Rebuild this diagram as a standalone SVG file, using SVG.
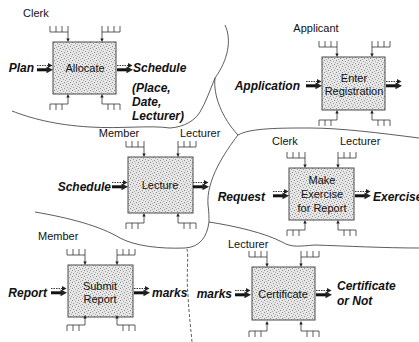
<svg xmlns="http://www.w3.org/2000/svg" xmlns:xlink="http://www.w3.org/1999/xlink" width="419" height="342" viewBox="0 0 419 342">
  <style>
    text { font-family: "Liberation Sans", Arial, sans-serif; fill: #111; }
    .lbl { font-size: 11px; }
    .title { font-size: 11px; text-anchor: middle; }
    .flowlbl { font-size: 12px; font-weight: bold; font-style: italic; }
    .end { text-anchor: end; }
    .mid { text-anchor: middle; }
    .box { fill: url(#stipple); stroke: #4a4a4a; stroke-width: 1; }
    .comb { fill: none; stroke: #333; stroke-width: 0.8; }
    .tip { fill: #222; }
    .region { fill: none; stroke: #333; stroke-width: 0.8; }
    .dashed { stroke-dasharray: 3 2; }
  </style>
  <defs>
    <!-- grainy grey fill used inside each process box -->
    <pattern id="stipple" width="6" height="6" patternUnits="userSpaceOnUse">
      <rect width="6" height="6" fill="#e6e6e6"/>
      <rect x="0" y="0" width="1" height="1" fill="#8a8a8a"/>
      <rect x="3" y="1" width="1" height="1" fill="#a0a0a0"/>
      <rect x="1" y="3" width="1" height="1" fill="#9a9a9a"/>
      <rect x="4" y="4" width="1" height="1" fill="#8a8a8a"/>
      <rect x="5" y="2" width="1" height="1" fill="#b0b0b0"/>
      <rect x="2" y="5" width="1" height="1" fill="#aaaaaa"/>
    </pattern>
    <!-- input/output pair: dotted control arrow above a thick data arrow -->
    <g id="flow">
      <path d="M0,-2.5H11.5" fill="none" stroke="#222" stroke-width="0.9" stroke-dasharray="1.5 1"/>
      <path d="M11,-5L15.5,-2.5L11,0Z" class="tip"/>
      <path d="M0,1.8H10.5" fill="none" stroke="#111" stroke-width="3"/>
      <path d="M9.5,-1.6L16,1.8L9.5,5.2Z" class="tip"/>
    </g>
    <!-- comb-shaped ports; origin sits on the comb's bar, connector runs to the box -->
    <g id="pTL">
      <path class="comb" d="M-18,-6V0H0M-12,-6V0M-6,-6V0M0,-6V8"/>
      <path class="tip" d="M-1.7,6.5L1.7,6.5L0,10Z"/>
    </g>
    <g id="pTR">
      <path class="comb" d="M18,-6V0H0M12,-6V0M6,-6V0M0,-6V8"/>
      <path class="tip" d="M-1.7,6.5L1.7,6.5L0,10Z"/>
    </g>
    <g id="pBL">
      <path class="comb" d="M-18,6V0H0M-12,6V0M-6,6V0M0,0V-8"/>
      <path class="tip" d="M-1.7,-6.5L1.7,-6.5L0,-10Z"/>
    </g>
    <g id="pBR">
      <path class="comb" d="M18,6V0H0M12,6V0M6,6V0M0,0V-8"/>
      <path class="tip" d="M-1.7,-6.5L1.7,-6.5L0,-10Z"/>
    </g>
  </defs>

  <!-- free-hand partition lines between the work areas -->
  <g id="connectors">
    <path class="region" d="M12,111C30,118 55,125 90,127C120,129 150,125 170,128C185,127 195,120 200,112C206,102 210,90 215,78"/>
    <path class="region" d="M225,25C232,40 228,60 215,78C213,95 222,118 238,135"/>
    <path class="region" d="M238,135C250,128 280,128 310,128C340,128 380,133 419,138"/>
    <path class="region" d="M238,135C225,152 206,180 208,205C209,212 209,218 209,222"/>
    <path class="region" d="M209,222C235,226 265,233 282,242C292,248 300,246 315,245C345,246 385,248 419,248"/>
    <path class="region" d="M35,212C70,218 100,226 120,238C135,246 160,249 185,248C200,247 207,237 209,222"/>
    <path class="region dashed" d="M187,249C189,258 186,275 188,295C189,315 191,330 192,342"/>
  </g>

  <g id="allocate">
    <rect class="box" x="53" y="42" width="63" height="52"/>
    <text class="title" x="85" y="72">Allocate</text>
    <use xlink:href="#pTL" x="68" y="32"/>
    <use xlink:href="#pTR" x="102" y="32"/>
    <use xlink:href="#pBL" x="68" y="104"/>
    <use xlink:href="#pBR" x="102" y="104"/>
    <use xlink:href="#flow" x="37" y="68"/>
    <use xlink:href="#flow" x="117" y="68"/>
    <text class="lbl" x="23" y="17">Clerk</text>
    <text class="flowlbl end" x="34" y="72">Plan</text>
    <text class="flowlbl" x="133" y="72">Schedule</text>
    <text class="flowlbl" x="132" y="92">(Place,</text>
    <text class="flowlbl" x="132" y="106">Date,</text>
    <text class="flowlbl" x="132" y="120">Lecturer)</text>
  </g>

  <g id="enter-registration">
    <rect class="box" x="322" y="57" width="63" height="53"/>
    <text class="title" x="354" y="82">Enter</text>
    <text class="title" x="354" y="95">Registration</text>
    <use xlink:href="#pTL" x="337" y="47"/>
    <use xlink:href="#pTR" x="372" y="47"/>
    <use xlink:href="#pBL" x="337" y="120"/>
    <use xlink:href="#pBR" x="372" y="120"/>
    <use xlink:href="#flow" x="306" y="84"/>
    <use xlink:href="#flow" x="386" y="84"/>
    <text class="lbl mid" x="316" y="32">Applicant</text>
    <text class="flowlbl end" x="300" y="90">Application</text>
  </g>

  <g id="lecture">
    <rect class="box" x="128" y="157" width="65" height="56"/>
    <text class="title" x="160" y="189">Lecture</text>
    <use xlink:href="#pTL" x="144" y="147"/>
    <use xlink:href="#pTR" x="178" y="147"/>
    <use xlink:href="#pBL" x="144" y="223"/>
    <use xlink:href="#pBR" x="178" y="223"/>
    <use xlink:href="#flow" x="112" y="185"/>
    <use xlink:href="#flow" x="193" y="185"/>
    <text class="lbl mid" x="119" y="137">Member</text>
    <text class="lbl" x="180" y="137">Lecturer</text>
    <text class="flowlbl end" x="111" y="191">Schedule</text>
  </g>

  <g id="make-exercise">
    <rect class="box" x="289" y="168" width="65" height="52"/>
    <text class="title" x="322" y="184">Make</text>
    <text class="title" x="322" y="198">Exercise</text>
    <text class="title" x="322" y="212">for Report</text>
    <use xlink:href="#pTL" x="305" y="158"/>
    <use xlink:href="#pTR" x="338" y="158"/>
    <use xlink:href="#pBL" x="305" y="230"/>
    <use xlink:href="#pBR" x="338" y="230"/>
    <use xlink:href="#flow" x="273" y="194"/>
    <use xlink:href="#flow" x="355" y="194"/>
    <text class="lbl" x="272" y="145">Clerk</text>
    <text class="lbl" x="340" y="145">Lecturer</text>
    <text class="flowlbl end" x="265" y="201">Request</text>
    <text class="flowlbl" x="373" y="201">Exercise</text>
  </g>

  <g id="submit-report">
    <rect class="box" x="68" y="265" width="65" height="52"/>
    <text class="title" x="100" y="290">Submit</text>
    <text class="title" x="100" y="303">Report</text>
    <use xlink:href="#pTL" x="85" y="255"/>
    <use xlink:href="#pTR" x="117" y="255"/>
    <use xlink:href="#pBL" x="85" y="325"/>
    <use xlink:href="#pBR" x="117" y="325"/>
    <use xlink:href="#flow" x="51" y="291"/>
    <use xlink:href="#flow" x="134" y="291"/>
    <text class="lbl" x="38" y="240">Member</text>
    <text class="flowlbl end" x="47" y="297">Report</text>
    <text class="flowlbl" x="152" y="297">marks</text>
  </g>

  <g id="certificate">
    <rect class="box" x="252" y="267" width="63" height="53"/>
    <text class="title" x="283" y="298">Certificate</text>
    <use xlink:href="#pTL" x="267" y="257"/>
    <use xlink:href="#pTR" x="301" y="257"/>
    <use xlink:href="#pBL" x="267" y="331"/>
    <use xlink:href="#pBR" x="301" y="331"/>
    <use xlink:href="#flow" x="235" y="293"/>
    <use xlink:href="#flow" x="316" y="293"/>
    <text class="lbl" x="228" y="248">Lecturer</text>
    <text class="flowlbl end" x="232" y="298">marks</text>
    <text class="flowlbl" x="337" y="290">Certificate</text>
    <text class="flowlbl" x="337" y="305">or Not</text>
  </g>
</svg>
